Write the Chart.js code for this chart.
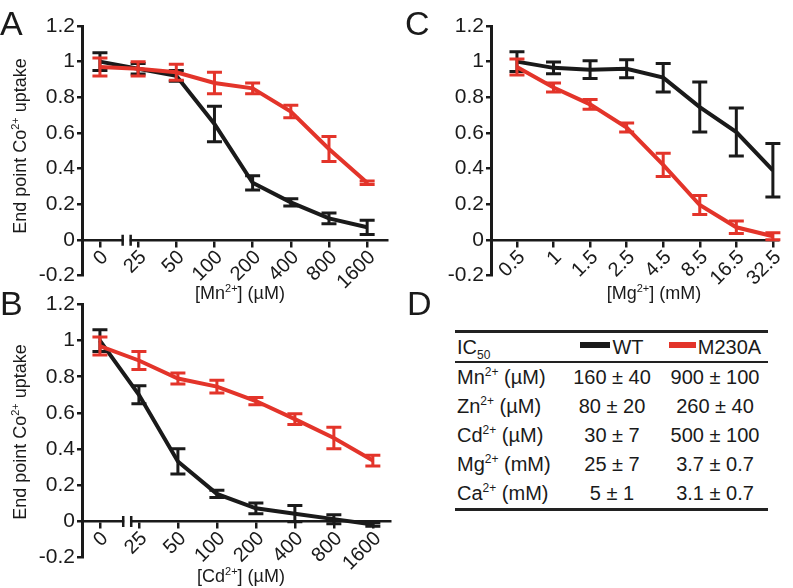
<!DOCTYPE html>
<html lang="en">
<head>
<meta charset="UTF-8">
<title>Co2+ uptake inhibition</title>
<script src="https://cdn.jsdelivr.net/npm/chart.js"></script>
<style>
  body { margin: 0; background: #fff; font-family: "Liberation Sans", Arial, sans-serif; color: #1a1a1a; }
  #fig { position: relative; width: 793px; height: 588px; overflow: hidden; }
  canvas { position: absolute; }
  .letter { position: absolute; font-size: 34px; line-height: 34px; }
  .title { position: absolute; font-size: 18px; white-space: nowrap; transform: translate(-50%, -50%); }
  .ytitle { transform: translate(-50%, -50%) rotate(-90deg); }
  sup { font-size: 11px; line-height: 0; vertical-align: 7px; }
  sub { font-size: 11px; line-height: 0; vertical-align: -5px; color: #1a1a1a; }
  #tbl { position: absolute; left: 455px; top: 330px; width: 313px; border-top: 3px solid #222; border-bottom: 3px solid #222; font-size: 20px; }
  #tbl .row { display: flex; height: 29px; align-items: center; }
  #tbl .head { height: 28px; border-bottom: 2.5px solid #222; }
  #tbl .c1 { width: 105px; padding-left: 2px; white-space: nowrap; }
  #tbl .c2 { width: 100px; text-align: center; white-space: nowrap; }
  #tbl .c3 { width: 106px; text-align: center; white-space: nowrap; }
  #tbl sup { font-size: 12px; vertical-align: 8px; }
  #tbl sub { font-size: 12px; }
  .key { display: inline-block; height: 6px; vertical-align: 6px; margin-right: 2px; }
</style>
</head>
<body>
<div id="fig">
  <canvas id="chartA" width="400" height="290" style="left:0;top:0"></canvas>
  <canvas id="chartB" width="400" height="298" style="left:0;top:290px"></canvas>
  <canvas id="chartC" width="393" height="290" style="left:400px;top:0"></canvas>

  <div class="letter" style="left:0;top:6px">A</div>
  <div class="letter" style="left:0;top:286px">B</div>
  <div class="letter" style="left:405px;top:6px">C</div>
  <div class="letter" style="left:407px;top:286px">D</div>

  <div class="title ytitle" style="left:20px;top:146px">End point Co<sup>2+</sup> uptake</div>
  <div class="title ytitle" style="left:20px;top:432px">End point Co<sup>2+</sup> uptake</div>
  <div class="title" style="left:240px;top:293px">[Mn<sup>2+</sup>] (µM)</div>
  <div class="title" style="left:241px;top:576px">[Cd<sup>2+</sup>] (µM)</div>
  <div class="title" style="left:654px;top:293px">[Mg<sup>2+</sup>] (mM)</div>

  <div id="tbl"></div>
</div>

<script>
// panel A: Mn2+ (µM)
const mnLabels = ['0', '25', '50', '100', '200', '400', '800', '1600'];
const mnWT = [1.00, 0.96, 0.92, 0.65, 0.32, 0.21, 0.12, 0.07];
const mnWTErr = [0.05, 0.03, 0.03, 0.10, 0.04, 0.02, 0.03, 0.04];
const mnM230A = [0.97, 0.96, 0.94, 0.88, 0.85, 0.72, 0.51, 0.32];
const mnM230AErr = [0.05, 0.04, 0.045, 0.06, 0.03, 0.035, 0.07, 0.01];

// panel B: Cd2+ (µM)
const cdLabels = ['0', '25', '50', '100', '200', '400', '800', '1600'];
const cdWT = [1.00, 0.70, 0.33, 0.15, 0.07, 0.04, 0.01, -0.02];
const cdWTErr = [0.06, 0.05, 0.07, 0.02, 0.03, 0.045, 0.025, 0.01];
const cdM230A = [0.97, 0.89, 0.79, 0.745, 0.665, 0.565, 0.46, 0.335];
const cdM230AErr = [0.05, 0.05, 0.03, 0.035, 0.02, 0.03, 0.06, 0.03];

// panel C: Mg2+ (mM)
const mgLabels = ['0.5', '1', '1.5', '2.5', '4.5', '8.5', '16.5', '32.5'];
const mgWT = [1.00, 0.965, 0.955, 0.96, 0.91, 0.745, 0.605, 0.39];
const mgWTErr = [0.055, 0.033, 0.05, 0.05, 0.08, 0.14, 0.135, 0.15];
const mgM230A = [0.97, 0.855, 0.76, 0.63, 0.42, 0.195, 0.07, 0.02];
const mgM230AErr = [0.045, 0.025, 0.028, 0.025, 0.065, 0.053, 0.035, 0.02];

// panel D: IC50 table
const ions = ['Mn', 'Zn', 'Cd', 'Mg', 'Ca'];
const units = ['µM', 'µM', 'µM', 'mM', 'mM'];
const ic50WT = ['160 ± 40', '80 ± 20', '30 ± 7', '25 ± 7', '5 ± 1'];
const ic50M230A = ['900 ± 100', '260 ± 40', '500 ± 100', '3.7 ± 0.7', '3.1 ± 0.7'];

const ink = '#1a1a1a';
const red = '#e3342a';
const family = '"Liberation Sans", Arial, sans-serif';
Chart.defaults.font.family = family;
Chart.defaults.color = ink;

const errorBars = {
  id: 'errorBars',
  afterDatasetDraw(chart, args) {
    const ds = chart.data.datasets[args.index];
    const x = chart.scales.x, y = chart.scales.y, ctx = chart.ctx;
    ctx.save();
    ctx.strokeStyle = ds.borderColor;
    ctx.lineWidth = 3;
    ds.data.forEach((p, i) => {
      const px = x.getPixelForValue(p.x);
      const top = y.getPixelForValue(p.y + ds.errors[i]);
      const bot = y.getPixelForValue(p.y - ds.errors[i]);
      ctx.beginPath();
      ctx.moveTo(px, top); ctx.lineTo(px, bot);
      ctx.moveTo(px - 7.5, top); ctx.lineTo(px + 7.5, top);
      ctx.moveTo(px - 7.5, bot); ctx.lineTo(px + 7.5, bot);
      ctx.stroke();
    });
    ctx.restore();
  }
};

// the // break on the x axis between 0 and 25
const axisBreak = {
  id: 'axisBreak',
  afterDraw(chart) {
    const ctx = chart.ctx;
    const cx = chart.scales.x.getPixelForValue(0.7);
    const y0 = chart.scales.y.getPixelForValue(0);
    ctx.save();
    ctx.fillStyle = '#fff';
    ctx.fillRect(cx - 3, y0 - 3, 6, 6);
    ctx.strokeStyle = ink;
    ctx.lineWidth = 2.5;
    ctx.beginPath();
    ctx.moveTo(cx - 4, y0 - 5); ctx.lineTo(cx - 4, y0 + 6);
    ctx.moveTo(cx + 4, y0 - 5); ctx.lineTo(cx + 4, y0 + 6);
    ctx.stroke();
    ctx.restore();
  }
};

function makePanel(id, labels, wt, wtErr, mut, mutErr, o) {
  const pts = arr => arr.map((v, i) => ({ x: i, y: v }));
  new Chart(document.getElementById(id), {
    type: 'line',
    data: {
      datasets: [
        { label: 'WT', data: pts(wt), errors: wtErr, borderColor: ink, borderWidth: 4, pointRadius: 0, order: 2, clip: false },
        { label: 'M230A', data: pts(mut), errors: mutErr, borderColor: red, borderWidth: 4, pointRadius: 0, order: 1, clip: false }
      ]
    },
    options: {
      responsive: false,
      animation: false,
      devicePixelRatio: 1,
      layout: { padding: o.padding },
      plugins: { legend: { display: false }, tooltip: { enabled: false } },
      scales: {
        x: {
          type: 'linear', position: { y: 0 }, min: o.xmin, max: o.xmax,
          afterFit: s => { s.height = 0; },
          border: { color: ink, width: 2.5 },
          grid: { drawOnChartArea: false, tickLength: 6, color: ink, lineWidth: 2.5 },
          ticks: {
            font: { family, size: 20 }, color: ink,
            stepSize: 1, includeBounds: false, autoSkip: false,
            minRotation: 45, maxRotation: 45, padding: 0, labelOffset: 5,
            callback: v => labels[v] ?? ''
          }
        },
        y: {
          min: -0.2, max: 1.2,
          afterFit: s => { s.width = o.yWidth; },
          border: { color: ink, width: 3 },
          grid: { drawOnChartArea: false, tickLength: 5, color: ink, lineWidth: 2.5 },
          ticks: { font: { family, size: 21 }, color: ink, stepSize: 0.2, padding: 2, callback: v => String(parseFloat(v.toFixed(1))) }
        }
      }
    },
    plugins: o.brk ? [errorBars, axisBreak] : [errorBars]
  });
}

makePanel('chartA', mnLabels, mnWT, mnWTErr, mnM230A, mnM230AErr,
  { padding: { top: 26, right: 13, bottom: 13, left: 0 }, yWidth: 82, xmin: -0.47, xmax: 7.52, brk: true });
makePanel('chartB', cdLabels, cdWT, cdWTErr, cdM230A, cdM230AErr,
  { padding: { top: 11.5, right: 10, bottom: 31, left: 0 }, yWidth: 82, xmin: -0.46, xmax: 7.44, brk: true });
makePanel('chartC', mgLabels, mgWT, mgWTErr, mgM230A, mgM230AErr,
  { padding: { top: 26, right: 15, bottom: 13, left: 0 }, yWidth: 91, xmin: -0.71, xmax: 7.14, brk: false });

// table D
const tbl = document.getElementById('tbl');
let html = '<div class="row head"><div class="c1">IC<sub>50</sub></div>' +
  '<div class="c2"><span class="key" style="width:30px;background:' + ink + '"></span>WT</div>' +
  '<div class="c3"><span class="key" style="width:27px;background:' + red + '"></span>M230A</div></div>';
ions.forEach((ion, i) => {
  html += '<div class="row"><div class="c1">' + ion + '<sup>2+</sup> (' + units[i] + ')</div>' +
    '<div class="c2">' + ic50WT[i] + '</div><div class="c3">' + ic50M230A[i] + '</div></div>';
});
tbl.innerHTML = html;
</script>
</body>
</html>
